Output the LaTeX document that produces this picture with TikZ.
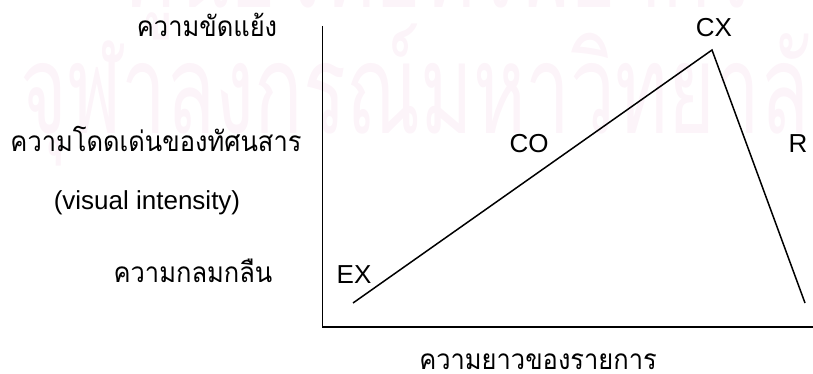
\documentclass[tikz,border=0pt]{standalone}
\usepackage{fontspec}
\setmainfont{Liberation Sans}
\newfontfamily\thaifont[Script=Thai]{Loma}
\usetikzlibrary{positioning}
\definecolor{wmark}{HTML}{FCF4F9}
\tikzset{
  lbl/.style={font=\fontsize{26}{30}\selectfont,inner sep=0pt,anchor=base},
  tlbl/.style={font=\thaifont\fontsize{28}{32}\selectfont,inner sep=0pt,anchor=base,xscale=0.91},
  wm/.style={font=\thaifont\fontsize{125}{130}\selectfont,text=wmark,inner sep=0pt,anchor=base west,xscale=0.64},
  axis/.style={line width=1.8pt},
  trend/.style={line width=1.5pt,line join=miter},
}

\begin{document}
\begin{tikzpicture}[x=1pt,y=-1pt]
\useasboundingbox (0,0) rectangle (813,374);
\begin{scope}
\clip (0,0) rectangle (813,374);
\node[wm] (wm1) at (125,8) {ศูนย์วิทยทรัพยากร};
\node[wm] (wm2) at (20,134) {จุฬาลงกรณ์มหาวิทยาลัย};
\end{scope}
\coordinate (ytop) at (322.5,26);
\coordinate (xend) at (813,327);
\coordinate (ex) at (353,303);
\coordinate (cx) at (712,50);
\coordinate (r) at (805,303);
\draw[axis] (ytop) |- (xend);
\draw[trend] (ex) -- (cx) -- (r);
\node[tlbl] (conflict) at (207,37) {ความขัดแย้ง};
\node[tlbl] (salience) at (156,152) {ความโดดเด่นของทัศนสาร};
\node[lbl] (visual) at (147,209) {(visual intensity)};
\node[tlbl] (harmony) at (193,282) {ความกลมกลืน};
\node[tlbl] (length) at (538,369) {ความยาวของรายการ};
\node[lbl] (exl) at (354,283) {EX};
\node[lbl] (col) at (529,153) {CO};
\node[lbl] (cxl) at (714,37) {CX};
\node[lbl] (rl) at (798,153) {R};
\end{tikzpicture}
\end{document}
